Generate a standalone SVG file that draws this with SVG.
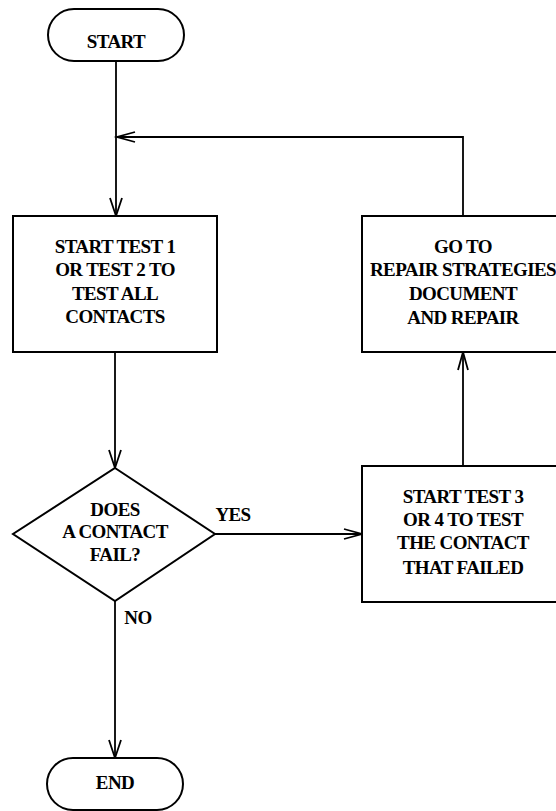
<svg xmlns="http://www.w3.org/2000/svg" width="556" height="811" viewBox="0 0 556 811" font-family="'Liberation Serif', 'DejaVu Serif', serif">
<style>
.shape{fill:#fff;stroke:#000;stroke-width:2}
.line{fill:none;stroke:#000;stroke-width:1.8}
.head{fill:none;stroke:#000;stroke-width:1.8;stroke-linejoin:miter}
text{font-family:'Liberation Serif','DejaVu Serif',serif;font-weight:bold;font-size:19px;letter-spacing:-0.6px;text-anchor:middle;fill:#000}
</style>
<rect width="556" height="811" fill="#fff"/>
<g id="connectors">
<path class="line" d="M116 61 V216"/>
<path class="head" d="M110 198 L116 216 L122 198"/>
<path class="line" d="M463 216 V137 H117"/>
<path class="head" d="M135 132 L117 137 L135 142"/>
<path class="line" d="M115 352 V468"/>
<path class="head" d="M109 450 L115 468 L121 450"/>
<path class="line" d="M215 534 H362"/>
<path class="head" d="M344 529 L362 534 L344 539"/>
<path class="line" d="M463 466 V352"/>
<path class="head" d="M458 370 L463 352 L468 370"/>
<path class="line" d="M115 601 V758"/>
<path class="head" d="M109 740 L115 758 L121 740"/>
<text x="233" y="521">YES</text>
<text x="138" y="624">NO</text>
</g>
<g id="start">
<rect class="shape" x="48" y="9" width="136" height="52" rx="26"/>
<text x="116" y="48">START</text>
</g>
<g id="test12">
<rect class="shape" x="13" y="216" width="204" height="136"/>
<text x="115" y="253">START TEST 1</text>
<text x="115" y="276">OR TEST 2 TO</text>
<text x="115" y="300">TEST ALL</text>
<text x="115" y="323">CONTACTS</text>
</g>
<g id="decision">
<polygon class="shape" points="115,468 215,534 115,601 13,534"/>
<text x="115" y="516">DOES</text>
<text x="115" y="538">A CONTACT</text>
<text x="115" y="561">FAIL?</text>
</g>
<g id="repair">
<rect class="shape" x="362" y="216" width="210" height="136"/>
<text x="463" y="253">GO TO</text>
<text x="463" y="276">REPAIR STRATEGIES</text>
<text x="463" y="300">DOCUMENT</text>
<text x="463" y="324">AND REPAIR</text>
</g>
<g id="test34">
<rect class="shape" x="362" y="466" width="210" height="136"/>
<text x="463" y="503">START TEST 3</text>
<text x="463" y="526">OR 4 TO TEST</text>
<text x="463" y="549">THE CONTACT</text>
<text x="463" y="574">THAT FAILED</text>
</g>
<g id="end">
<rect class="shape" x="47" y="758" width="136" height="52" rx="26"/>
<text x="115" y="789">END</text>
</g>
</svg>
